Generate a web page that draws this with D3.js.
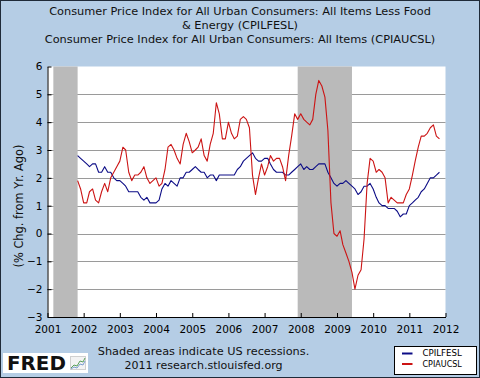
<!DOCTYPE html>
<html>
<head>
<meta charset="utf-8">
<script src="https://cdn.jsdelivr.net/npm/d3@7"></script>
<style>
  html, body { margin: 0; padding: 0; background: #b5cde5; }
  svg { display: block; }
</style>
</head>
<body>
<div id="chart"></div>
<script>
// data (monthly, % change from year ago)
const seriesNames = ["CPILFESL", "CPIAUCSL"];
const startMonth = "2001-11-01";

const coreValues = [
  2.8, 2.7,
  2.6, 2.5, 2.4, 2.5, 2.5, 2.2, 2.2, 2.4, 2.2, 2.2, 2.0, 1.9,
  1.9, 1.8, 1.7, 1.5, 1.5, 1.5, 1.5, 1.3, 1.2, 1.3, 1.1, 1.1,
  1.1, 1.2, 1.6, 1.8, 1.7, 1.9, 1.8, 1.7, 2.0, 2.0, 2.2, 2.2,
  2.3, 2.4, 2.3, 2.2, 2.2, 2.0, 2.1, 2.1, 1.9, 2.1, 2.1, 2.1,
  2.1, 2.1, 2.1, 2.3, 2.4, 2.6, 2.7, 2.8, 2.9, 2.7, 2.6, 2.6,
  2.7, 2.7, 2.5, 2.3, 2.2, 2.2, 2.2, 2.1, 2.1, 2.2, 2.3, 2.4,
  2.5, 2.3, 2.4, 2.3, 2.3, 2.4, 2.5, 2.5, 2.5, 2.2, 2.0, 1.8,
  1.7, 1.8, 1.8, 1.9, 1.8, 1.7, 1.6, 1.4, 1.5, 1.7, 1.7, 1.8,
  1.6, 1.3, 1.1, 1.0, 1.0, 0.9, 0.9, 0.9, 0.8, 0.6, 0.7, 0.7,
  1.0, 1.1, 1.2, 1.3, 1.5, 1.6, 1.8, 2.0, 2.0, 2.1, 2.2
];

const allValues = [
  1.9, 1.6,
  1.1, 1.1, 1.5, 1.6, 1.2, 1.1, 1.5, 1.8, 1.5, 2.0, 2.2, 2.4,
  2.6, 3.1, 3.0, 2.2, 1.9, 2.1, 2.1, 2.2, 2.4, 2.0, 1.8, 1.9,
  2.0, 1.7, 1.8, 2.3, 3.1, 3.2, 3.0, 2.7, 2.5, 3.2, 3.6, 3.3,
  2.9, 3.0, 3.1, 3.4, 2.8, 2.6, 3.2, 3.6, 4.7, 4.3, 3.4, 3.4,
  4.0, 3.6, 3.4, 3.5, 4.1, 4.2, 4.1, 3.8, 2.1, 1.4, 2.0, 2.5,
  2.1, 2.4, 2.8, 2.6, 2.7, 2.7, 2.4, 1.9, 2.8, 3.5, 4.3, 4.1,
  4.3, 4.1, 4.0, 3.9, 4.1, 5.0, 5.5, 5.3, 4.9, 3.7, 1.1, 0.0,
  -0.1, 0.1, -0.4, -0.7, -1.0, -1.4, -2.0, -1.5, -1.3, -0.2, 1.8, 2.7,
  2.6, 2.2, 2.3, 2.2, 2.0, 1.1, 1.3, 1.2, 1.1, 1.1, 1.1, 1.4,
  1.6, 2.1, 2.6, 3.1, 3.5, 3.5, 3.6, 3.8, 3.9, 3.5, 3.4
];

const recessions = [
  ["2001-03-01", "2001-11-01"],
  ["2007-12-01", "2009-06-01"]
];

const yTicks = [-3, -2, -1, 0, 1, 2, 3, 4, 5, 6];
const gridValues = [-2, -1, 0, 1, 2, 3, 4, 5];
const xTickYears = [2001, 2002, 2003, 2004, 2005, 2006, 2007, 2008, 2009, 2010, 2011, 2012];

const titleLines = [
  "Consumer Price Index for All Urban Consumers: All Items Less Food",
  "& Energy (CPILFESL)",
  "Consumer Price Index for All Urban Consumers: All Items (CPIAUCSL)"
];
const yLabel = "(% Chg. from Yr. Ago)";
const footLines = ["Shaded areas indicate US recessions.", "2011 research.stlouisfed.org"];

const colors = { CPILFESL: "#0c0c86", CPIAUCSL: "#cc1414" };

// layout
const width = 480, height = 378;
const plot = { left: 47.5, right: 445.5, top: 66.5, bottom: 317 };
const font = "'DejaVu Sans', Verdana, sans-serif";

const parse = d3.timeParse("%Y-%m-%d");
const start = parse(startMonth);
const rows = coreValues.map((v, i) => ({
  date: d3.timeMonth.offset(start, i),
  CPILFESL: v,
  CPIAUCSL: allValues[i]
}));

const svg = d3.select("#chart").append("svg")
  .attr("width", width)
  .attr("height", height);

svg.append("rect")
  .attr("x", 0.5).attr("y", 0.5)
  .attr("width", width - 1).attr("height", height - 1)
  .attr("fill", "#b5cde5")
  .attr("stroke", "#1f2a38");

// shrink/grow a text so it spans the width measured on the reference
function fit(sel, target) {
  const w = sel.node().getComputedTextLength();
  const fs = parseFloat(sel.attr("font-size"));
  sel.attr("font-size", (fs * target / w).toFixed(2));
}

// titles
const titleY = [15, 28.5, 42.5];
const titleSel = svg.append("g").selectAll("text")
  .data(titleLines)
  .enter()
  .append("text")
  .attr("x", 240)
  .attr("y", (d, i) => titleY[i])
  .attr("text-anchor", "middle")
  .attr("font-family", font)
  .attr("font-size", 11)
  .attr("fill", "#111")
  .text(d => d);
// same size for every line, taken from the longest
{
  const w3 = titleSel.nodes()[2].getComputedTextLength();
  const fs = 11 * 391 / w3;
  titleSel.attr("font-size", fs.toFixed(2));
}

const x = d3.scaleTime()
  .domain([new Date(2001, 0, 1), new Date(2012, 0, 1)])
  .range([plot.left, plot.right]);

const y = d3.scaleLinear()
  .domain([-3, 6])
  .range([plot.bottom, plot.top]);

// plot background
svg.append("rect")
  .attr("x", plot.left).attr("y", plot.top)
  .attr("width", plot.right - plot.left)
  .attr("height", plot.bottom - plot.top)
  .attr("fill", "#fff");

// gridlines
svg.append("g")
  .selectAll("line")
  .data(gridValues)
  .enter()
  .append("line")
  .attr("x1", plot.left)
  .attr("x2", plot.right)
  .attr("y1", d => Math.round(y(d)) + 0.5)
  .attr("y2", d => Math.round(y(d)) + 0.5)
  .style("stroke", "#9a9a9a")
  .style("stroke-width", 1);

// recession bars, drawn over the grid
svg.append("g")
  .selectAll("rect")
  .data(recessions)
  .enter()
  .append("rect")
  .attr("x", d => x(parse(d[0])))
  .attr("width", d => x(parse(d[1])) - x(parse(d[0])))
  .attr("y", plot.top)
  .attr("height", plot.bottom - plot.top)
  .attr("fill", "#bababa");

// lines
const line = key => d3.line()
  .x(d => x(d.date))
  .y(d => y(d[key]));

svg.append("g")
  .selectAll("path")
  .data(seriesNames)
  .enter()
  .append("path")
  .attr("d", k => line(k)(rows))
  .attr("fill", "none")
  .attr("stroke", k => colors[k])
  .attr("stroke-width", 1.1)
  .attr("stroke-linejoin", "round");

// axes
const xAxis = d3.axisBottom(x)
  .tickValues(xTickYears.map(yr => new Date(yr, 0, 1)))
  .tickFormat(d3.timeFormat("%Y"))
  .tickSizeInner(-4)
  .tickSizeOuter(0)
  .tickPadding(9);

const gx = svg.append("g")
  .attr("transform", `translate(0,${plot.bottom})`)
  .call(xAxis);

const yAxis = d3.axisLeft(y)
  .tickValues(yTicks)
  .tickSizeInner(-4)
  .tickSizeOuter(0)
  .tickPadding(5);

const gy = svg.append("g")
  .attr("transform", `translate(${plot.left},0)`)
  .call(yAxis);

[gx, gy].forEach(g => {
  g.selectAll("path, line").attr("stroke", "#000");
  g.selectAll("text")
    .attr("font-family", font)
    .attr("font-size", 10.5)
    .attr("fill", "#000");
});

// y axis title
const yl = svg.append("text")
  .attr("transform", "translate(23,206) rotate(-90)")
  .attr("text-anchor", "middle")
  .attr("font-family", font)
  .attr("font-size", 11)
  .attr("fill", "#111")
  .text(yLabel);
fit(yl, 123);

// footer
const footY = [355, 369];
const footSel = svg.append("g").selectAll("text")
  .data(footLines)
  .enter()
  .append("text")
  .attr("x", 203.5)
  .attr("y", (d, i) => footY[i])
  .attr("text-anchor", "middle")
  .attr("font-family", font)
  .attr("font-size", 11)
  .attr("fill", "#111")
  .text(d => d);
fit(d3.select(footSel.nodes()[0]), 211.5);
fit(d3.select(footSel.nodes()[1]), 158);

// FRED logo
const logo = svg.append("g");
logo.append("rect")
  .attr("x", 3).attr("y", 353)
  .attr("width", 85).attr("height", 20)
  .attr("fill", "#fff");
const fred = logo.append("text")
  .attr("x", 7).attr("y", 369.5)
  .attr("font-family", font)
  .attr("font-weight", "bold")
  .attr("font-size", 19)
  .attr("fill", "#111")
  .text("FRED");
fit(fred, 59);
logo.append("rect")
  .attr("x", 70.5).attr("y", 356.5)
  .attr("width", 15).attr("height", 13)
  .attr("fill", "#f3f3f3")
  .attr("stroke", "#d0d0d0");
logo.append("path")
  .attr("d", "M71,368 L74,365 L77,366 L80,361 L83,362 L85,358")
  .attr("fill", "none")
  .attr("stroke", "#5aa05a")
  .attr("stroke-width", 1);
logo.append("path")
  .attr("d", "M71,369 L74,367 L77,368 L80,364 L83,365 L85,361")
  .attr("fill", "none")
  .attr("stroke", "#7a9ccf")
  .attr("stroke-width", 1);

// legend
const legend = svg.append("g");
legend.append("rect")
  .attr("x", 394.5).attr("y", 346.5)
  .attr("width", 82).attr("height", 28)
  .attr("fill", "#fff")
  .attr("stroke", "#000");

const items = legend.selectAll("g.item")
  .data(seriesNames)
  .enter()
  .append("g")
  .attr("class", "item")
  .attr("transform", (d, i) => `translate(0,${353.5 + i * 10.5})`);

items.append("line")
  .attr("x1", 402).attr("x2", 412.5)
  .attr("y1", 0).attr("y2", 0)
  .attr("stroke", d => colors[d])
  .attr("stroke-width", 2);

items.append("text")
  .attr("x", 422.5)
  .attr("y", 2.5)
  .attr("font-family", font)
  .attr("font-size", 9)
  .attr("fill", "#000")
  .text(d => d)
  .each(function () { fit(d3.select(this), 39.3); });
</script>
</body>
</html>
